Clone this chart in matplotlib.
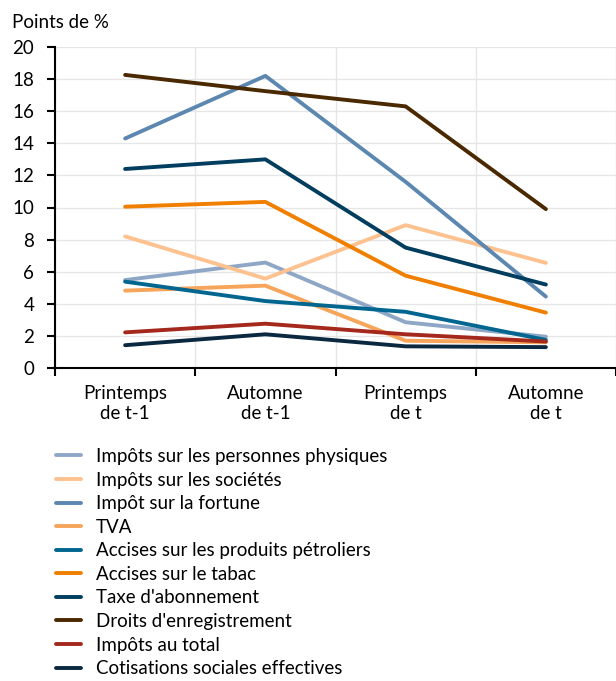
import matplotlib
matplotlib.use("Agg")
import matplotlib.pyplot as plt
from matplotlib.ticker import FixedLocator

plt.rcParams['font.family'] = ['Lato', 'DejaVu Sans']

categories = ["Printemps\nde t-1", "Automne\nde t-1", "Printemps\nde t", "Automne\nde t"]

series_names = [
    "Impôts sur les personnes physiques",
    "Impôts sur les sociétés",
    "Impôt sur la fortune",
    "TVA",
    "Accises sur les produits pétroliers",
    "Accises sur le tabac",
    "Taxe d'abonnement",
    "Droits d'enregistrement",
    "Impôts au total",
    "Cotisations sociales effectives",
]

personnes_physiques = [5.48, 6.57, 2.85, 1.95]
societes = [8.2, 5.57, 8.9, 6.55]
fortune = [14.3, 18.2, 11.6, 4.45]
tva = [4.82, 5.13, 1.7, 1.6]
petroliers = [5.38, 4.17, 3.5, 1.75]
tabac = [10.05, 10.35, 5.75, 3.45]
abonnement = [12.4, 13.0, 7.5, 5.2]
enregistrement = [18.26, 17.25, 16.3, 9.9]
total = [2.22, 2.76, 2.1, 1.65]
cotisations = [1.42, 2.1, 1.35, 1.3]

series_values = [personnes_physiques, societes, fortune, tva, petroliers,
                 tabac, abonnement, enregistrement, total, cotisations]

colors = ["#8FA7C6", "#FDC28F", "#5C87B0", "#F6A55B", "#006690",
          "#F07F00", "#003D5E", "#4A2800", "#A4281C", "#0A2840"]

FS = 13.5

fig = plt.figure(figsize=(6.16, 6.81), dpi=100)
ax = fig.add_axes([55/616, 1 - 368/681, 1 - 55/616, (368 - 47)/681])

x = list(range(len(categories)))
for name, vals, c in zip(series_names, series_values, colors):
    ax.plot(x, vals, color=c, lw=2.8, label=name, solid_capstyle='round')

ax.set_xlim(-0.5, 3.5)
ax.set_ylim(0, 20)
ax.set_yticks(range(0, 21, 2))
ax.set_xticks(x)
ax.set_xticklabels(categories, fontsize=FS, linespacing=1.25)
ax.xaxis.set_minor_locator(FixedLocator([-0.5, 0.5, 1.5, 2.5, 3.5]))
ax.tick_params(axis='x', which='major', length=0, pad=12)
ax.tick_params(axis='x', which='minor', length=6, width=1.5, direction='out')
ax.tick_params(axis='y', which='major', length=6, width=1.5, pad=9, labelsize=FS)

ax.grid(True, axis='y', which='major', color='#e6e6e6', lw=1)
ax.grid(True, axis='x', which='minor', color='#e6e6e6', lw=1)
ax.set_axisbelow(True)
for s in ['top', 'right']:
    ax.spines[s].set_visible(False)
for s in ['left', 'bottom']:
    ax.spines[s].set_linewidth(1.5)

fig.text(12/616, 1 - 22/681, "Points de %", fontsize=FS, va='center', ha='left')

fpx = FS * 100 / 72
fig.legend(loc='upper left', bbox_to_anchor=(56/616, 1 - 448/681), frameon=False,
           fontsize=FS, handlelength=25/fpx, handletextpad=15/fpx, labelspacing=0.35,
           borderaxespad=0, borderpad=0)

fig.savefig("out.png", dpi=100)
